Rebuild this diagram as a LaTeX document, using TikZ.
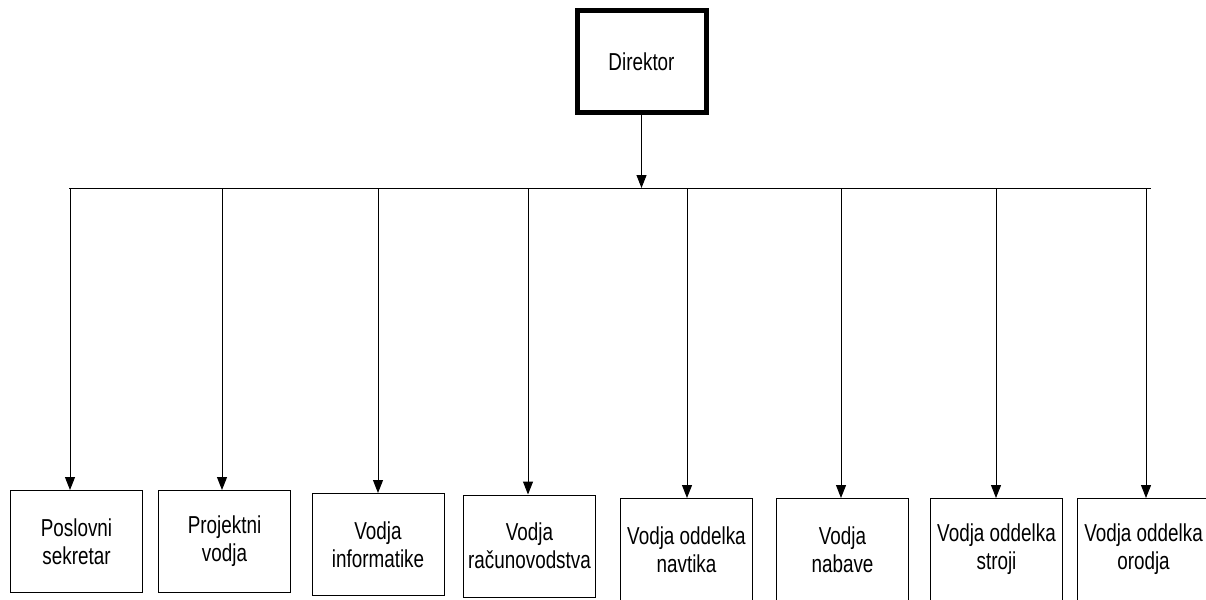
\documentclass[tikz,border=0pt]{standalone}
\usepackage{fontspec}
\setmainfont{Liberation Sans}
\newfontfamily\orgfont[FakeStretch=0.77]{Liberation Sans}
\usetikzlibrary{arrows.meta}

\tikzset{
  unit/.style={draw=black, line width=1pt, inner sep=0pt, minimum width=132pt,
    minimum height=102pt, align=center, font=\orgfont\fontsize{24.5}{28}\selectfont},
  head/.style={unit, line width=5pt, minimum width=129pt},
  link/.style={draw=black, line width=1pt},
  feed/.style={link, -{Triangle[width=10pt,length=13pt]}}
}

\begin{document}
\begin{tikzpicture}[x=1pt,y=-1pt]
  \useasboundingbox (0,0) rectangle (1206,599);

  % top of the chart
  \node[head] (dir) at (641.5,62) {Direktor};

  % distribution bus
  \coordinate (busL) at (69,188);
  \coordinate (busR) at (1151,188);
  \draw[link] (busL) -- (busR);
  \draw[feed] (dir.south) -- (dir.south |- busL);

  % departments
  \node[unit] (u1) at (76.5,541.5) {Poslovni\\sekretar};
  \node[unit] (u2) at (224.5,541.5) {Projektni\\vodja};
  \node[unit] (u3) at (378,544.5) {Vodja\\informatike};
  \node[unit] (u4) at (529.5,546) {Vodja\\računovodstva};
  \node[unit] (u5) at (686.5,549.5) {Vodja oddelka\\navtika};
  \node[unit] (u6) at (842.5,549.5) {Vodja\\nabave};
  \node[unit] (u7) at (996.5,549.5) {Vodja oddelka\\stroji};
  \node[unit] (u8) at (1143.5,549.5) {Vodja oddelka\\orodja};

  % drops from the bus to each department
  \foreach \i/\x in {1/70,2/222,3/378,4/528,5/687,6/841,7/996,8/1146}{
    \coordinate (b\i) at (\x,188);
    \draw[feed] (b\i) -- (u\i.north -| b\i);
  }
\end{tikzpicture}
\end{document}
